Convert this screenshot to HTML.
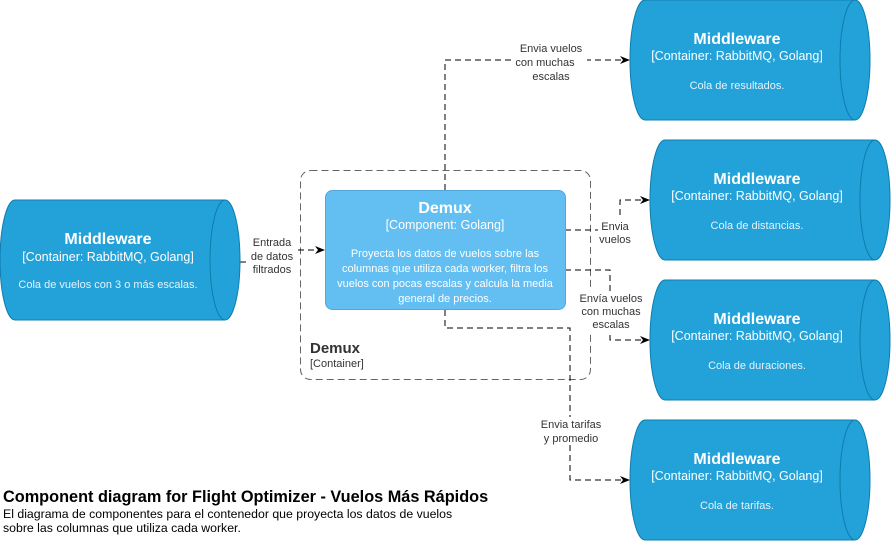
<!DOCTYPE html>
<html><head><meta charset="utf-8"><style>
body{margin:0;background:#fff;width:891px;height:541px;overflow:hidden}
svg text{font-family:"Liberation Sans",sans-serif}
</style></head><body>
<svg width="891" height="541" viewBox="0 0 891 541">
<defs><marker id="a" markerWidth="10" markerHeight="8" refX="9" refY="4" orient="auto" markerUnits="userSpaceOnUse"><path d="M0,0 L10,4 L0,8 L3,4 z" fill="#000"/></marker></defs>
<rect x="300.5" y="170.5" width="290" height="209" rx="10" fill="none" stroke="#666" stroke-dasharray="7,4"/>
<g fill="none" stroke="#000" stroke-dasharray="6,4" marker-end="url(#a)">
<polyline points="240,262 282,262 282,250 324,250"/>
<polyline points="445,190 445,60 629,60"/>
<polyline points="565,230 620,230 620,200 649,200"/>
<polyline points="565,270 610,270 610,340 649,340"/>
<polyline points="445,310 445,328 570,328 570,480 629,480"/>
</g>
<g font-size="11" fill="#333" text-anchor="middle">
<rect x="250" y="234" width="46" height="42" fill="#fff"/>
<text x="272" y="246">Entrada</text><text x="272" y="260">de datos</text><text x="272" y="273">filtrados</text>
<rect x="515" y="40" width="72" height="42" fill="#fff"/>
<text x="551" y="52">Envia vuelos</text><text x="545" y="66">con muchas</text><text x="551" y="80">escalas</text>
<rect x="598" y="219" width="36" height="28" fill="#fff"/>
<text x="615" y="230">Envia</text><text x="615" y="243">vuelos</text>
<rect x="578" y="291" width="68" height="40" fill="#fff"/>
<text x="611" y="302">Envía vuelos</text><text x="611" y="315">con muchas</text><text x="611" y="328">escalas</text>
<rect x="537" y="417" width="68" height="28" fill="#fff"/>
<text x="571" y="428">Envia tarifas</text><text x="571" y="442">y promedio</text>
</g>
<g fill="#23a2d9" stroke="#0e7dad">
<path d="M15,200 L225,200 A15,60 0 0 1 225,320 L15,320 A15,60 0 0 1 15,200 Z"/>
<path d="M645,0 L855,0 A15,60 0 0 1 855,120 L645,120 A15,60 0 0 1 645,0 Z"/>
<path d="M665,140 L875,140 A15,60 0 0 1 875,260 L665,260 A15,60 0 0 1 665,140 Z"/>
<path d="M665,280 L875,280 A15,60 0 0 1 875,400 L665,400 A15,60 0 0 1 665,280 Z"/>
<path d="M645,420 L855,420 A15,60 0 0 1 855,540 L645,540 A15,60 0 0 1 645,420 Z"/>
</g>
<g fill="none" stroke="#0e7dad">
<path d="M225,200 A15,60 0 0 0 225,320"/>
<path d="M855,0 A15,60 0 0 0 855,120"/>
<path d="M875,140 A15,60 0 0 0 875,260"/>
<path d="M875,280 A15,60 0 0 0 875,400"/>
<path d="M855,420 A15,60 0 0 0 855,540"/>
</g>
<rect x="325.5" y="190.5" width="240" height="119" rx="7" fill="#63bef2" stroke="#4fa7de"/>
<g fill="#fff" text-anchor="middle">
<g font-size="16" font-weight="bold">
<text x="108" y="244">Middleware</text><text x="737" y="44">Middleware</text><text x="757" y="184">Middleware</text><text x="757" y="324">Middleware</text><text x="737" y="464">Middleware</text><text x="445" y="213">Demux</text></g>
<g font-size="12.5">
<text x="108" y="261">[Container: RabbitMQ, Golang]</text><text x="737" y="60">[Container: RabbitMQ, Golang]</text><text x="757" y="200">[Container: RabbitMQ, Golang]</text><text x="757" y="340">[Container: RabbitMQ, Golang]</text><text x="737" y="480">[Container: RabbitMQ, Golang]</text><text x="445" y="229">[Component: Golang]</text></g>
<g font-size="11" fill="#e4f2fa">
<text x="108" y="288">Cola de vuelos con 3 o más escalas.</text><text x="737" y="89">Cola de resultados.</text><text x="757" y="229">Cola de distancias.</text><text x="757" y="369">Cola de duraciones.</text><text x="737" y="509">Cola de tarifas.</text></g>
<g font-size="11">
<text x="445" y="257">Proyecta los datos de vuelos sobre las</text><text x="445" y="272">columnas que utiliza cada worker, filtra los</text><text x="445" y="287">vuelos con pocas escalas y calcula la media</text><text x="445" y="302">general de precios.</text></g>
</g>
<text x="310" y="353" font-size="15" font-weight="bold" fill="#333">Demux</text>
<text x="310" y="367" font-size="11" fill="#333">[Container]</text>
<text x="3" y="502" font-size="16.3" font-weight="bold" fill="#000">Component diagram for Flight Optimizer - Vuelos Más Rápidos</text>
<text x="3" y="518" font-size="12.3" fill="#000">El diagrama de componentes para el contenedor que proyecta los datos de vuelos</text>
<text x="3" y="532" font-size="12.3" fill="#000">sobre las columnas que utiliza cada worker.</text>
</svg>
</body></html>
